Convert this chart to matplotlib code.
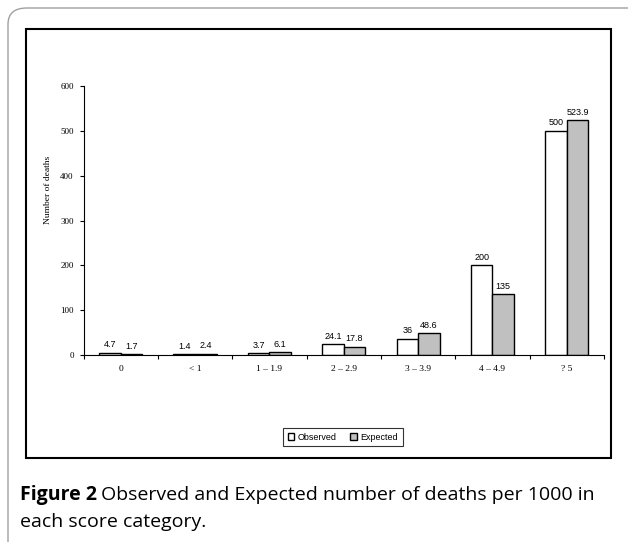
import matplotlib.pyplot as plt
from matplotlib.patches import FancyBboxPatch, Rectangle
import numpy as np

categories = ["0", "< 1", "1 \u2013 1.9", "2 \u2013 2.9", "3 \u2013 3.9", "4 \u2013 4.9", "? 5"]
observed = [4.7, 1.4, 3.7, 24.1, 36, 200, 500]
expected = [1.7, 2.4, 6.1, 17.8, 48.6, 135, 523.9]
obs_labels = ["4.7", "1.4", "3.7", "24.1", "36", "200", "500"]
exp_labels = ["1.7", "2.4", "6.1", "17.8", "48.6", "135", "523.9"]
yticks = [0, 100, 200, 300, 400, 500, 600]

W, H = 628, 542
fig = plt.figure(figsize=(W / 100, H / 100), dpi=100)

# outer rounded panel
fig.patches.append(FancyBboxPatch((8 / W, -0.05), 1.1, 1 - 8 / H + 0.05,
                                  boxstyle="round,pad=0,rounding_size=0.03",
                                  transform=fig.transFigure, facecolor="white",
                                  edgecolor="#a0a0a0", linewidth=1.0, zorder=0))
# inner chart frame
fig.patches.append(Rectangle((26 / W, 1 - 458 / H), (611 - 26) / W, (458 - 29) / H,
                             transform=fig.transFigure, facecolor="white",
                             edgecolor="black", linewidth=1.5, zorder=1))

ax = fig.add_axes([83.5 / W, 1 - 355 / H, (604 - 83.5) / W, (355 - 86) / H])
ax.set_zorder(2)
ax.patch.set_alpha(0)

x = np.arange(len(categories))
w = 0.29
b1 = ax.bar(x - w / 2, observed, w, color="white", edgecolor="black", linewidth=1.0,
            label="Observed")
b2 = ax.bar(x + w / 2, expected, w, color="#c0c0c0", edgecolor="black", linewidth=1.0,
            label="Expected")

for rect, lab in zip(b1, obs_labels):
    ax.text(rect.get_x() + rect.get_width() / 2, rect.get_height() + 8, lab,
            ha="center", va="bottom", fontsize=6.5, family="Liberation Sans")
for rect, lab in zip(b2, exp_labels):
    ax.text(rect.get_x() + rect.get_width() / 2, rect.get_height() + 8, lab,
            ha="center", va="bottom", fontsize=6.5, family="Liberation Sans")

ax.set_xlim(-0.5, len(categories) - 0.5)
ax.set_ylim(0, 600)
ax.set_yticks(yticks)
ax.set_yticklabels([str(t) for t in yticks], family="Liberation Serif", fontsize=6.5)
ax.set_xticks(np.arange(-0.5, len(categories), 1))
ax.set_xticklabels([])
ax.set_xticks(x, minor=True)
ax.set_xticklabels(categories, minor=True, family="Liberation Serif", fontsize=6.8)
ax.tick_params(axis="x", which="minor", length=0, pad=7)
ax.tick_params(axis="x", which="major", length=3, width=0.8, direction="out")
ax.tick_params(axis="y", length=3, width=0.8, direction="out", pad=4)
ax.spines["top"].set_visible(False)
ax.spines["right"].set_visible(False)
ax.spines["left"].set_linewidth(0.8)
ax.spines["bottom"].set_linewidth(0.8)

ax.set_ylabel("Number of deaths", family="Liberation Serif", fontsize=6.8)
ax.yaxis.set_label_coords(-0.06, 0.613)

leg = fig.legend(loc="center", bbox_to_anchor=(343 / W, 1 - 437 / H), ncol=2,
                 prop={"family": "Liberation Sans", "size": 6.5}, frameon=True,
                 fancybox=False, edgecolor="black", handlelength=0.7, handleheight=0.7,
                 handletextpad=0.4, columnspacing=1.5, borderpad=0.5)
leg.get_frame().set_linewidth(0.8)
leg.set_zorder(3)

# caption
t1 = fig.text(20 / W, 1 - 495 / H, "Figure 2", fontsize=14, va="center",
              family="Open Sans", weight="bold")
fig.canvas.draw()
bb = t1.get_window_extent()
fig.text(bb.x1 / W + 4 / W, 1 - 495 / H,
         "Observed and Expected number of deaths per 1000 in",
         fontsize=14, va="center", family="Open Sans")
fig.text(20 / W, 1 - 522 / H, "each score category.", fontsize=14, va="center",
         family="Open Sans")

fig.savefig("out.png", dpi=100)
